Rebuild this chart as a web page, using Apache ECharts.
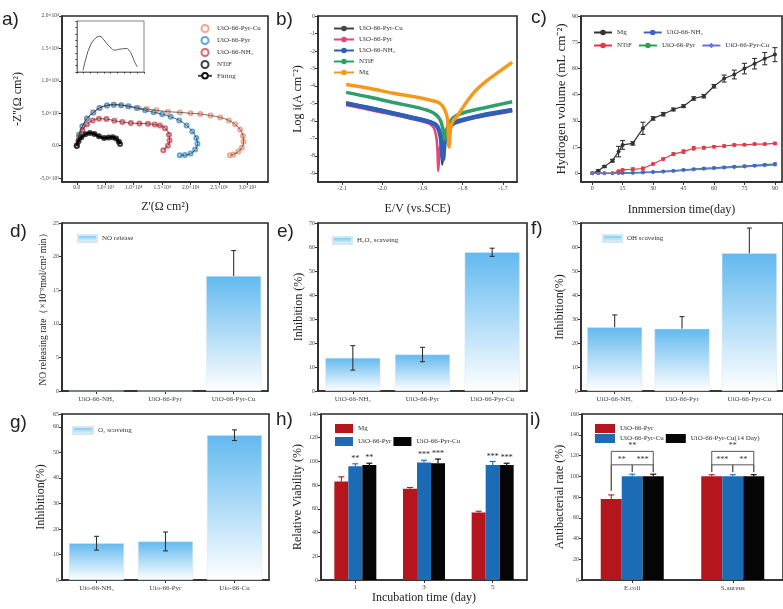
<!DOCTYPE html>
<html>
<head>
<meta charset="UTF-8">
<title>UiO-66 panels</title>
<style>
  * { margin: 0; padding: 0; }
  html, body { background: #fff; }
  #main { width: 783px; height: 609px; }
</style>
<script src="https://cdn.jsdelivr.net/npm/echarts@6/dist/echarts.min.js"></script>
</head>
<body>
<div id="main"></div>
<script>
// ---------- a) Nyquist  [Z', -Z'']
var nyqPyrCu = [[0,0],[400,1700],[1000,3000],[1800,4200],[2900,5100],[4000,5800],[5300,6200],[6500,6300],[7800,6250],[9200,6050],[10800,5800],[12300,5650],[14000,5450],[16000,5250],[18100,5130],[20000,5000],[21700,4880],[23500,4650],[25200,4350],[26700,3900],[27800,3300],[28700,2500],[29200,1500],[29300,600],[29000,-300],[28400,-900],[27500,-1350],[26900,-1480]];
var nyqPyr = [[0,0],[400,1700],[1000,3000],[1800,4200],[2900,5100],[4000,5800],[5300,6200],[6500,6320],[7800,6250],[9000,6100],[10500,5800],[12000,5450],[13500,5150],[15000,4850],[16500,4450],[18000,3900],[19300,3100],[20300,2200],[21000,1200],[21200,300],[20800,-600],[20000,-1200],[19000,-1450],[18100,-1480]];
var nyqNH2 = [[0,0],[400,1300],[1000,2400],[1800,3300],[2800,3900],[3900,4150],[5200,4100],[6600,3850],[8000,3650],[9500,3500],[11000,3430],[12500,3380],[13700,3250],[14600,3100],[15500,2700],[16200,1700],[16300,800],[16000,0],[15200,-700]];
var nyqNTiF = [[0,0],[300,700],[800,1300],[1500,1750],[2300,1950],[3100,1800],[3900,1450],[4800,1200],[5600,1250],[6300,1320],[6900,1100],[7400,600],[7600,250]];
var insetCurve = [[0.09,0.03],[0.13,0.25],[0.19,0.49],[0.26,0.64],[0.34,0.70],[0.40,0.63],[0.45,0.55],[0.51,0.47],[0.56,0.43],[0.65,0.45],[0.74,0.46],[0.79,0.40],[0.82,0.33],[0.86,0.20],[0.9,0.1]];
var aTicksX = [0,5000,10000,15000,20000,25000,30000];
var aTicksY = [-5000,0,5000,10000,15000,20000];

// ---------- b) Tafel  [E, log i]
var tafMg = [[-2.09,-3.92],[-2.03,-4.15],[-1.973,-4.42],[-1.92,-4.62],[-1.88,-4.82],[-1.857,-5.0],[-1.845,-5.35],[-1.838,-5.9],[-1.834,-7.5],[-1.830,-6.4],[-1.824,-6.0],[-1.816,-5.8],[-1.80,-5.25],[-1.785,-4.75],[-1.767,-4.25],[-1.74,-3.7],[-1.71,-3.2],[-1.677,-2.65]];
var tafNTiF = [[-2.09,-4.37],[-2.03,-4.65],[-1.973,-4.95],[-1.92,-5.2],[-1.885,-5.42],[-1.866,-5.66],[-1.855,-6.0],[-1.849,-6.5],[-1.845,-7.08],[-1.84,-6.5],[-1.832,-6.05],[-1.816,-5.7],[-1.79,-5.48],[-1.767,-5.35],[-1.72,-5.12],[-1.677,-4.91]];
var tafNH2 = [[-2.09,-5.0],[-2.03,-5.28],[-1.973,-5.57],[-1.92,-5.85],[-1.885,-6.05],[-1.866,-6.25],[-1.858,-6.6],[-1.853,-7.2],[-1.849,-8.2],[-1.845,-7.2],[-1.838,-6.6],[-1.824,-6.15],[-1.80,-5.95],[-1.767,-5.76],[-1.72,-5.55],[-1.677,-5.38]];
var tafPyr = [[-2.09,-5.1],[-2.03,-5.38],[-1.973,-5.65],[-1.92,-5.93],[-1.885,-6.15],[-1.872,-6.4],[-1.866,-6.9],[-1.863,-7.6],[-1.861,-8.87],[-1.857,-7.6],[-1.85,-6.9],[-1.838,-6.4],[-1.824,-6.2],[-1.80,-6.0],[-1.767,-5.82],[-1.72,-5.62],[-1.677,-5.45]];
var tafPyrCu = [[-2.09,-4.95],[-2.03,-5.24],[-1.973,-5.52],[-1.92,-5.8],[-1.885,-6.0],[-1.866,-6.2],[-1.858,-6.55],[-1.854,-7.2],[-1.851,-8.5],[-1.847,-7.2],[-1.84,-6.55],[-1.826,-6.12],[-1.80,-5.92],[-1.767,-5.73],[-1.72,-5.52],[-1.677,-5.35]];
var bTicksX = [-2.1,-2.0,-1.9,-1.8,-1.7];
var bTicksY = [-9,-8,-7,-6,-5,-4,-3,-2,-1,0];

// ---------- c) hydrogen evolution
var hDays = [0,3,6,10,13,15,20,25,30,35,40,45,50,55,60,65,70,75,80,85,90];
var hMg = [0,1.5,3.8,7.2,12.4,16.2,17.1,25.7,31.4,33.8,36.5,38.4,42.8,44.1,49.8,54.2,56.5,59.9,62.7,65.6,67.9];
var hMgErr = [0,0.5,0.5,0.8,3,2.5,1,3.5,1,1,0.8,0.8,1,1,1,2,2.5,3,3,3.5,4];
var hNTiF = [0,0,0,0,1.2,1.9,2.3,2.7,5.3,8.2,11,12.4,14.3,14.6,15.2,15.6,16.2,16.3,16.7,16.7,17.1];
var hNTiFErr = [0,0,0,0,0.5,0.5,0.8,0.8,0.5,0.6,0.8,1,1,0.8,0.6,0.6,0.6,0.5,0.5,0.5,0.6];
var hNH2 = [0,0,0,0,0.1,0.2,0.3,0.6,0.8,1.1,1.5,2.0,2.4,2.8,3.1,3.5,3.8,4.1,4.5,4.9,5.3];
var hPyr = [0,0,0,0,0,0.1,0.2,0.4,0.6,0.9,1.3,1.8,2.2,2.6,2.9,3.3,3.6,3.9,4.3,4.7,5.1];
var hPyrCu = [0,0,0,0,0,0,0.1,0.3,0.5,0.8,1.1,1.6,2.0,2.4,2.7,3.0,3.3,3.7,4.0,4.4,4.8];
var hSmallErr = [0,0,0,0,0,0.2,0.2,0.2,0.3,0.3,0.3,0.3,0.4,0.4,0.4,0.4,0.5,0.5,0.5,0.5,0.6];
var cTicksX = [0,15,30,45,60,75,90];
var cTicksY = [0,15,30,45,60,75,90];

// ---------- d-g) single bars
var catUiO = ['UiO-66-NH₂','UiO-66-Pyr','UiO-66-Pyr-Cu'];
var catUio = ['Uio-66-NH₂','Uio-66-Pyr','Uio-66-Cu'];
var noRelease = [0,0,17.1], noReleaseErr = [0,0,3.8];
var h2o2 = [13.8,15.2,57.8], h2o2Err = [5.1,3.0,1.7];
var ohScav = [26.6,25.9,57.4], ohScavErr = [5.1,5.1,10.5];
var o2Scav = [14.4,15.1,56.7], o2ScavErr = [2.7,3.7,2.1];

// ---------- h) viability
var dayCats = ['1','3','5'];
var viaMg = [83,77,57], viaMgErr = [4,1,1];
var viaPyr = [96,99,97], viaPyrErr = [2,2,3];
var viaPyrCu = [97,98.5,97], viaPyrCuErr = [1.5,3.5,1.5];
var viaStars = [['','**','**'],['','***','***'],['','***','***']];

// ---------- i) antibacterial
var bacCats = ['E.coli','S.aureus'];
var abPyr = [78,100], abPyrErr = [4,1.5];
var abPyrCu = [100,100], abPyrCuErr = [2,1.5];
var abPyrCu14 = [100,100], abPyrCu14Err = [2,1.5];
// brackets: [category, line y, left leg bottom, right leg bottom, from bar, to bar]
var abBrackets = [[0,124,86,104,0,2],[0,111,86,104,0,1],[0,111,104,104,1,2],[1,124,104,104,0,2],[1,111,104,104,0,1],[1,111,104,104,1,2]];
var abBracketText = ['**','**','***','**','***','**'];

var SERIF = 'Liberation Serif';
var INK = '#2a2a2a';

function merge(a, b) {
  for (var k in b) {
    if (b[k] && typeof b[k] === 'object' && !Array.isArray(b[k]) && a[k] && typeof a[k] === 'object') merge(a[k], b[k]);
    else a[k] = b[k];
  }
  return a;
}
function box(l, t, w, h) {
  return { left: l, top: t, width: w, height: h, show: true, borderColor: INK, borderWidth: 1.6 };
}
function axis(type, grid, o) {
  return merge({
    type: type, gridIndex: grid, splitLine: { show: false },
    axisLine: { show: true, onZero: false, lineStyle: { color: INK, width: 1.6 } },
    axisTick: { show: true, length: 3, lineStyle: { color: '#333', width: 1 } },
    axisLabel: { fontFamily: SERIF, fontSize: 6, color: '#444', margin: 3 },
    nameLocation: 'middle',
    nameTextStyle: { fontFamily: SERIF, fontSize: 12, color: '#222' }
  }, o || {});
}
var SUP = { '-': '⁻', '0': '⁰', '1': '¹', '2': '²', '3': '³', '4': '⁴', '5': '⁵' };
function sci(v) {
  if (v === 0) return '0.0';
  var s = v < 0 ? '-' : '';
  v = Math.abs(v);
  var e = Math.floor(Math.log10(v) + 1e-9);
  var m = (v / Math.pow(10, e)).toFixed(1);
  return s + m + '×10' + String(e).split('').map(function (c) { return SUP[c]; }).join('');
}
function pairs(xs, ys) { return xs.map(function (x, i) { return [x, ys[i]]; }); }

// error bars (upper or full) drawn in axis coordinates
function errSeries(xi, yi, data, color, opts) {
  opts = opts || {};
  return {
    type: 'custom', xAxisIndex: xi, yAxisIndex: yi, z: 5, silent: true,
    data: data,
    renderItem: function (params, api) {
      var x = api.value(0), v = api.value(1), e = api.value(2), slot = api.value(3) || 0;
      var off = opts.slotW ? (slot - (opts.n - 1) / 2) * opts.slotW : 0;
      var kids = [];
      if (e > 0) {
        var hi = api.coord([x, v + e]);
        var lo = api.coord([x, opts.upper ? v : v - e]);
        var cx = hi[0] + off, cap = opts.cap || 2.5;
        kids.push({ type: 'line', shape: { x1: cx, y1: hi[1], x2: cx, y2: lo[1] }, style: { stroke: color, lineWidth: 1.1 } });
        kids.push({ type: 'line', shape: { x1: cx - cap, y1: hi[1], x2: cx + cap, y2: hi[1] }, style: { stroke: color, lineWidth: 1.1 } });
        if (!opts.upper) kids.push({ type: 'line', shape: { x1: cx - cap, y1: lo[1], x2: cx + cap, y2: lo[1] }, style: { stroke: color, lineWidth: 1.1 } });
      }
      if (opts.texts) {
        var t = opts.texts[params.dataIndex];
        if (t) {
          var p = api.coord([x, v + e]);
          kids.push({ type: 'text', style: { text: t, x: p[0] + off, y: p[1] - 1, align: 'center', verticalAlign: 'bottom', font: '8px ' + SERIF, fill: '#222' } });
        }
      }
      return { type: 'group', children: kids };
    }
  };
}
function slotData(vals, errs, slot) { return vals.map(function (v, i) { return [i, v, errs[i], slot]; }); }

function grad() {
  return new echarts.graphic.LinearGradient(0, 0, 0, 1, [{ offset: 0, color: '#62b9ef' }, { offset: 1, color: '#ffffff' }]);
}
function gradBar(name, xi, vals) {
  return { type: 'bar', name: name, xAxisIndex: xi, yAxisIndex: xi, data: vals, barWidth: 55,
    itemStyle: { color: grad(), borderColor: '#d8e6f0', borderWidth: 0.5 } };
}
function strip(n) { return n.split('|')[0]; }
var legTxt = { fontFamily: SERIF, fontSize: 7, color: '#333' };

var chart = echarts.init(document.getElementById('main'));

var option = {
  backgroundColor: '#fff',
  animation: false,
  grid: [
    box(62, 16, 206, 166),   // a
    box(318, 16, 199, 166),  // b
    box(581, 16, 201, 166),  // c
    box(62, 223, 206, 168),  // d
    box(318, 223, 209, 168), // e
    box(581, 223, 206, 168), // f
    box(62, 414, 207, 166),  // g
    box(321, 414, 206, 166), // h
    box(582, 414, 205, 166), // i
    { left: 77, top: 21, width: 67, height: 51, show: true, borderColor: '#666', borderWidth: 0.8 } // inset
  ],
  xAxis: [
    axis('value', 0, { min: -2600, max: 33600, name: "Z'(Ω cm²)", nameGap: 19,
      axisLabel: { customValues: aTicksX, formatter: sci, fontSize: 5.5 }, axisTick: { customValues: aTicksX } }),
    axis('value', 1, { min: -2.16, max: -1.665, name: 'E/V (vs.SCE)', nameGap: 21,
      axisLabel: { customValues: bTicksX, formatter: function (v) { return v.toFixed(1); } }, axisTick: { customValues: bTicksX } }),
    axis('value', 2, { min: -5.5, max: 93.5, name: 'Inmmersion time(day)', nameGap: 22,
      axisLabel: { customValues: cTicksX }, axisTick: { customValues: cTicksX } }),
    axis('category', 3, { data: catUiO, axisTick: { alignWithLabel: true }, axisLabel: { fontSize: 7, margin: 5 } }),
    axis('category', 4, { data: catUiO, axisTick: { alignWithLabel: true }, axisLabel: { fontSize: 7, margin: 5 } }),
    axis('category', 5, { data: catUiO, axisTick: { alignWithLabel: true }, axisLabel: { fontSize: 7, margin: 5 } }),
    axis('category', 6, { data: catUio, axisTick: { alignWithLabel: true }, axisLabel: { fontSize: 7, margin: 5 } }),
    axis('category', 7, { data: dayCats, name: 'Incubation time (day)', nameGap: 11, axisTick: { alignWithLabel: true }, axisLabel: { fontSize: 7, margin: 4 } }),
    axis('category', 8, { data: bacCats, axisTick: { alignWithLabel: true }, axisLabel: { fontSize: 7, margin: 5 } }),
    axis('value', 9, { min: 0, max: 1, interval: 0.1, axisLabel: { show: false }, axisTick: { length: 1.5 }, axisLine: { lineStyle: { width: 0.8, color: '#666' } } })
  ],
  yAxis: [
    axis('value', 0, { min: -5600, max: 20000, name: "-Z''(Ω cm²)", nameGap: 38,
      axisLabel: { customValues: aTicksY, formatter: sci, fontSize: 5.5 }, axisTick: { customValues: aTicksY } }),
    axis('value', 1, { min: -9.5, max: 0, name: 'Log i(A cm⁻²)', nameGap: 14,
      axisLabel: { customValues: bTicksY }, axisTick: { customValues: bTicksY } }),
    axis('value', 2, { min: -5, max: 90, name: 'Hydrogen volume (mL cm⁻²)', nameGap: 11, nameTextStyle: { fontSize: 13 },
      axisLabel: { customValues: cTicksY }, axisTick: { customValues: cTicksY } }),
    axis('value', 3, { min: 0, max: 25, interval: 5, name: 'NO releasing rate（×10⁻⁹mol/cm² min）', nameGap: 14, nameTextStyle: { fontSize: 9.5 } }),
    axis('value', 4, { min: 0, max: 70, interval: 10, name: 'Inhibition (%)', nameGap: 13 }),
    axis('value', 5, { min: 0, max: 70, interval: 10, name: 'Inhibition(%)', nameGap: 15 }),
    axis('value', 6, { min: 0, max: 65, interval: 10, name: 'Inhibition(%)', nameGap: 15 }),
    axis('value', 7, { min: 0, max: 140, interval: 20, name: 'Relative Viability (%)', nameGap: 17 }),
    axis('value', 8, { min: 0, max: 160, interval: 20, name: 'Antibacterial rate (%)', nameGap: 16 }),
    axis('value', 9, { min: 0, max: 1, interval: 0.125, axisLabel: { show: false }, axisTick: { length: 1.5 }, axisLine: { lineStyle: { width: 0.8, color: '#666' } } })
  ],
  legend: [
    { data: ['UiO-66-Pyr-Cu|a', 'UiO-66-Pyr|a', 'UiO-66-NH₂|a', 'NTiF|a', 'Fitting|a'], formatter: strip, orient: 'vertical',
      left: 192, top: 19, itemWidth: 14, itemHeight: 7, itemGap: 3, textStyle: legTxt },
    { data: ['UiO-66-Pyr-Cu|b', 'UiO-66-Pyr|b', 'UiO-66-NH₂|b', 'NTiF|b', 'Mg|b'], formatter: strip, orient: 'vertical',
      left: 328, top: 20, itemWidth: 20, itemHeight: 7, itemGap: 4, textStyle: legTxt },
    { data: ['Mg|c', 'UiO-66-NH₂|c'], formatter: strip, left: 588, top: 24, itemWidth: 18, itemHeight: 7, itemGap: 16, textStyle: legTxt },
    { data: ['NTiF|c', 'UiO-66-Pyr|c', 'UiO-66-Pyr-Cu|c'], formatter: strip, left: 588, top: 37, itemWidth: 18, itemHeight: 7, itemGap: 6, textStyle: legTxt },
    { data: ['NO release|d'], formatter: strip, left: 72, top: 229, icon: 'rect', itemWidth: 19, itemHeight: 7, textStyle: legTxt },
    { data: ['H₂O₂ scaveing|e'], formatter: strip, left: 327, top: 231, icon: 'rect', itemWidth: 19, itemHeight: 7, textStyle: legTxt },
    { data: ['OH scaveing|f'], formatter: strip, left: 597, top: 229, icon: 'rect', itemWidth: 19, itemHeight: 7, textStyle: legTxt },
    { data: ['O₂ scaveing|g'], formatter: strip, left: 67, top: 421, icon: 'rect', itemWidth: 20, itemHeight: 7, textStyle: legTxt },
    { data: ['Mg|h'], formatter: strip, left: 330, top: 419, icon: 'rect', itemWidth: 18, itemHeight: 9, textStyle: legTxt },
    { data: ['UiO-66-Pyr|h', 'UiO-66-Pyr-Cu|h'], formatter: strip, left: 330, top: 432, icon: 'rect', itemWidth: 18, itemHeight: 9, itemGap: 2, textStyle: legTxt },
    { data: ['UiO-66-Pyr|i'], formatter: strip, left: 590, top: 419, icon: 'rect', itemWidth: 20, itemHeight: 9, textStyle: legTxt },
    { data: ['UiO-66-Pyr-Cu|i', 'UiO-66-Pyr-Cu(14 Day)|i'], formatter: strip, left: 590, top: 429, icon: 'rect', itemWidth: 20, itemHeight: 9, itemGap: 2, textStyle: legTxt }
  ],
  graphic: [
    ['a)', 2, 10], ['b)', 276, 10], ['c)', 531, 8], ['d)', 10, 222], ['e)', 277, 222], ['f)', 531, 219],
    ['g)', 10, 413], ['h)', 276, 410], ['i)', 530, 410]
  ].map(function (p) {
    return { type: 'text', left: p[1], top: p[2], style: { text: p[0], font: '500 19px Liberation Sans', fill: '#222' } };
  }),
  series: [
    // a
    { type: 'scatter', name: 'UiO-66-Pyr-Cu|a', xAxisIndex: 0, yAxisIndex: 0, data: nyqPyrCu, symbol: 'emptyCircle', symbolSize: 4, itemStyle: { color: '#f0906c', borderWidth: 0.8 } },
    { type: 'scatter', name: 'UiO-66-Pyr|a', xAxisIndex: 0, yAxisIndex: 0, data: nyqPyr, symbol: 'emptyCircle', symbolSize: 4, itemStyle: { color: '#3b8fd0', borderWidth: 0.8 } },
    { type: 'scatter', name: 'UiO-66-NH₂|a', xAxisIndex: 0, yAxisIndex: 0, data: nyqNH2, symbol: 'emptyCircle', symbolSize: 4, itemStyle: { color: '#d8404d', borderWidth: 0.8 } },
    { type: 'scatter', name: 'NTiF|a', xAxisIndex: 0, yAxisIndex: 0, data: nyqNTiF, symbol: 'emptyCircle', symbolSize: 4, itemStyle: { color: '#111', borderWidth: 1.2 } },
    { type: 'line', name: 'Fitting|a', xAxisIndex: 0, yAxisIndex: 0, data: nyqPyrCu, smooth: true, showSymbol: false, lineStyle: { color: '#444', width: 0.8 }, itemStyle: { color: '#111' } },
    { type: 'line', name: 'Fitting|a', xAxisIndex: 0, yAxisIndex: 0, data: nyqPyr, smooth: true, showSymbol: false, lineStyle: { color: '#333', width: 0.8 }, itemStyle: { color: '#111' } },
    { type: 'line', name: 'Fitting|a', xAxisIndex: 0, yAxisIndex: 0, data: nyqNH2, smooth: true, showSymbol: false, lineStyle: { color: '#333', width: 0.8 }, itemStyle: { color: '#111' } },
    { type: 'line', name: 'Fitting|a', xAxisIndex: 0, yAxisIndex: 0, data: nyqNTiF, smooth: true, showSymbol: false, lineStyle: { color: '#000', width: 2.5 }, itemStyle: { color: '#111' } },
    { type: 'line', xAxisIndex: 9, yAxisIndex: 9, data: insetCurve, smooth: true, showSymbol: false, lineStyle: { color: '#555', width: 1 } },
    // b
    { type: 'line', name: 'UiO-66-Pyr-Cu|b', xAxisIndex: 1, yAxisIndex: 1, data: tafPyrCu, smooth: 0.3, symbol: 'circle', symbolSize: 3, showSymbol: false, lineStyle: { width: 2.5, color: '#444' }, itemStyle: { color: '#444' } },
    { type: 'line', name: 'UiO-66-Pyr|b', xAxisIndex: 1, yAxisIndex: 1, data: tafPyr, smooth: 0.3, symbol: 'circle', symbolSize: 3, showSymbol: false, lineStyle: { width: 2.5, color: '#e2457a' }, itemStyle: { color: '#e2457a' } },
    { type: 'line', name: 'UiO-66-NH₂|b', xAxisIndex: 1, yAxisIndex: 1, data: tafNH2, smooth: 0.3, symbol: 'circle', symbolSize: 3, showSymbol: false, lineStyle: { width: 4.5, color: '#2f5fb8' }, itemStyle: { color: '#2f5fb8' } },
    { type: 'line', name: 'NTiF|b', xAxisIndex: 1, yAxisIndex: 1, data: tafNTiF, smooth: 0.3, symbol: 'circle', symbolSize: 3, showSymbol: false, lineStyle: { width: 3.5, color: '#2e9e6a' }, itemStyle: { color: '#2e9e6a' } },
    { type: 'line', name: 'Mg|b', xAxisIndex: 1, yAxisIndex: 1, data: tafMg, smooth: 0.3, symbol: 'circle', symbolSize: 3, showSymbol: false, lineStyle: { width: 3.5, color: '#f39a1e' }, itemStyle: { color: '#f39a1e' } },
    // c
    { type: 'line', name: 'Mg|c', xAxisIndex: 2, yAxisIndex: 2, data: pairs(hDays, hMg), symbol: 'circle', symbolSize: 4, lineStyle: { width: 1.2, color: '#333' }, itemStyle: { color: '#333' } },
    { type: 'line', name: 'UiO-66-NH₂|c', xAxisIndex: 2, yAxisIndex: 2, data: pairs(hDays, hNH2), symbol: 'circle', symbolSize: 3.5, lineStyle: { width: 1.2, color: '#3f64c4' }, itemStyle: { color: '#3f64c4' } },
    { type: 'line', name: 'NTiF|c', xAxisIndex: 2, yAxisIndex: 2, data: pairs(hDays, hNTiF), symbol: 'circle', symbolSize: 4, lineStyle: { width: 1.2, color: '#e23a48' }, itemStyle: { color: '#e23a48' } },
    { type: 'line', name: 'UiO-66-Pyr|c', xAxisIndex: 2, yAxisIndex: 2, data: pairs(hDays, hPyr), symbol: 'circle', symbolSize: 3.5, lineStyle: { width: 1.2, color: '#2f9e58' }, itemStyle: { color: '#2f9e58' } },
    { type: 'line', name: 'UiO-66-Pyr-Cu|c', xAxisIndex: 2, yAxisIndex: 2, data: pairs(hDays, hPyrCu), symbol: 'diamond', symbolSize: 4, lineStyle: { width: 1.2, color: '#6a72e0' }, itemStyle: { color: '#6a72e0' } },
    errSeries(2, 2, hDays.map(function (d, i) { return [d, hMg[i], hMgErr[i]]; }), '#333', { cap: 2.5 }),
    errSeries(2, 2, hDays.map(function (d, i) { return [d, hNTiF[i], hNTiFErr[i]]; }), '#e23a48', { cap: 2 }),
    errSeries(2, 2, hDays.map(function (d, i) { return [d, hNH2[i], hSmallErr[i]]; }), '#3f64c4', { cap: 2 }),
    // d-g
    gradBar('NO release|d', 3, noRelease),
    errSeries(3, 3, slotData(noRelease, noReleaseErr, 0), '#333', { upper: true, cap: 2.5 }),
    gradBar('H₂O₂ scaveing|e', 4, h2o2),
    errSeries(4, 4, slotData(h2o2, h2o2Err, 0), '#333', { cap: 2.5 }),
    gradBar('OH scaveing|f', 5, ohScav),
    errSeries(5, 5, slotData(ohScav, ohScavErr, 0), '#333', { upper: true, cap: 2.5 }),
    gradBar('O₂ scaveing|g', 6, o2Scav),
    errSeries(6, 6, slotData(o2Scav, o2ScavErr, 0), '#333', { cap: 2.5 }),
    // h
    { type: 'bar', name: 'Mg|h', xAxisIndex: 7, yAxisIndex: 7, data: viaMg, barWidth: 14, barGap: '0%', itemStyle: { color: '#b5161d' } },
    { type: 'bar', name: 'UiO-66-Pyr|h', xAxisIndex: 7, yAxisIndex: 7, data: viaPyr, barWidth: 14, barGap: '0%', itemStyle: { color: '#1b6cb4' } },
    { type: 'bar', name: 'UiO-66-Pyr-Cu|h', xAxisIndex: 7, yAxisIndex: 7, data: viaPyrCu, barWidth: 14, barGap: '0%', itemStyle: { color: '#050505' } },
    errSeries(7, 7, slotData(viaMg, viaMgErr, 0), '#b5161d', { upper: true, slotW: 14, n: 3, cap: 3 }),
    errSeries(7, 7, slotData(viaPyr, viaPyrErr, 1), '#1b6cb4', { upper: true, slotW: 14, n: 3, cap: 3, texts: viaStars.map(function (r) { return r[1]; }) }),
    errSeries(7, 7, slotData(viaPyrCu, viaPyrCuErr, 2), '#000', { upper: true, slotW: 14, n: 3, cap: 3, texts: viaStars.map(function (r) { return r[2]; }) }),
    // i
    { type: 'bar', name: 'UiO-66-Pyr|i', xAxisIndex: 8, yAxisIndex: 8, data: abPyr, barWidth: 21, barGap: '0%', itemStyle: { color: '#b5161d' } },
    { type: 'bar', name: 'UiO-66-Pyr-Cu|i', xAxisIndex: 8, yAxisIndex: 8, data: abPyrCu, barWidth: 21, barGap: '0%', itemStyle: { color: '#1b6cb4' } },
    { type: 'bar', name: 'UiO-66-Pyr-Cu(14 Day)|i', xAxisIndex: 8, yAxisIndex: 8, data: abPyrCu14, barWidth: 21, barGap: '0%', itemStyle: { color: '#050505' } },
    errSeries(8, 8, slotData(abPyr, abPyrErr, 0), '#b5161d', { upper: true, slotW: 21, n: 3, cap: 3 }),
    errSeries(8, 8, slotData(abPyrCu, abPyrCuErr, 1), '#1b6cb4', { upper: true, slotW: 21, n: 3, cap: 3 }),
    errSeries(8, 8, slotData(abPyrCu14, abPyrCu14Err, 2), '#000', { upper: true, slotW: 21, n: 3, cap: 3 }),
    {
      type: 'custom', xAxisIndex: 8, yAxisIndex: 8, z: 6, silent: true, data: abBrackets,
      renderItem: function (params, api) {
        var c = api.value(0), y = api.value(1), bl = api.value(2), br = api.value(3), s0 = api.value(4), s1 = api.value(5);
        var p = api.coord([c, y]), pl = api.coord([c, bl]), pr = api.coord([c, br]);
        var x0 = p[0] + (s0 - 1) * 21, x1 = p[0] + (s1 - 1) * 21;
        var st = { stroke: '#555', lineWidth: 1 };
        return { type: 'group', children: [
          { type: 'line', shape: { x1: x0, y1: p[1], x2: x1, y2: p[1] }, style: st },
          { type: 'line', shape: { x1: x0, y1: p[1], x2: x0, y2: pl[1] }, style: st },
          { type: 'line', shape: { x1: x1, y1: p[1], x2: x1, y2: pr[1] }, style: st },
          { type: 'text', style: { text: abBracketText[params.dataIndex], x: (x0 + x1) / 2, y: p[1] - 1, align: 'center', verticalAlign: 'bottom', font: '8px ' + SERIF, fill: '#333' } }
        ] };
      }
    }
  ]
};

chart.setOption(option);
</script>
</body>
</html>
